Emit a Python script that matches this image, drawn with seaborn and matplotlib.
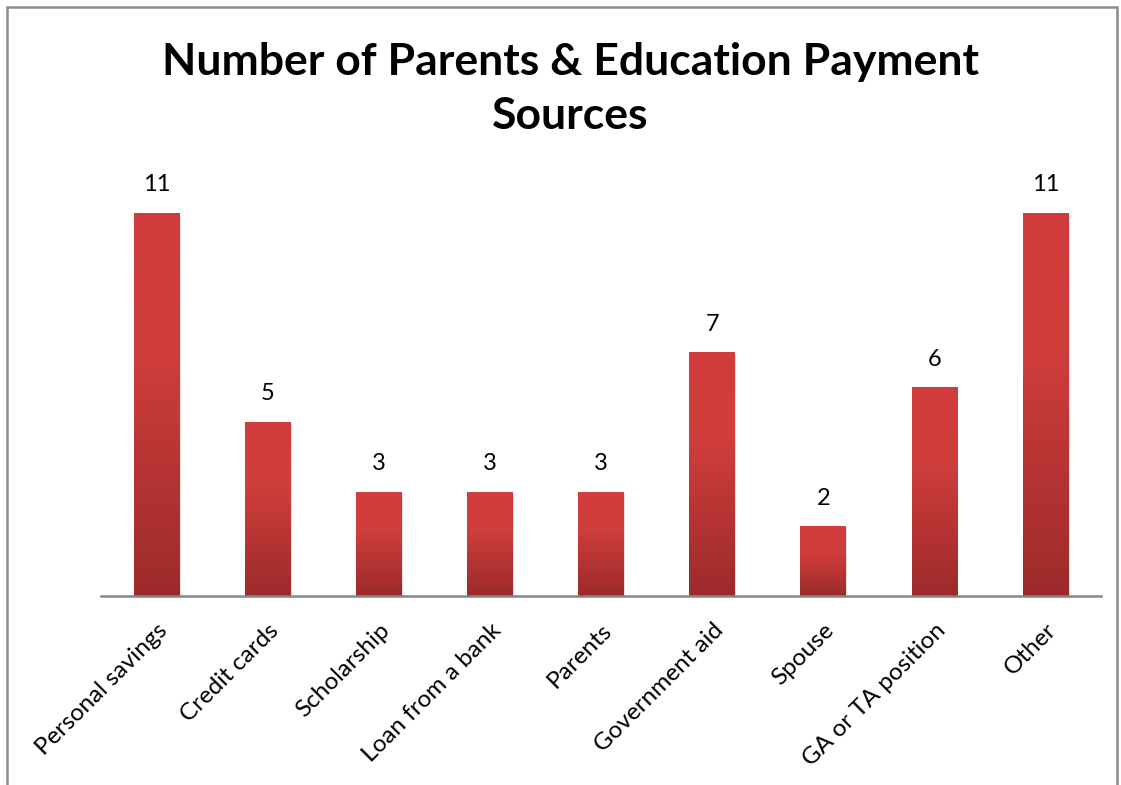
import numpy as np
import pandas as pd
import matplotlib
matplotlib.use("Agg")
import matplotlib.pyplot as plt
import seaborn as sns
from matplotlib.colors import LinearSegmentedColormap
from matplotlib.patches import Rectangle

sources = ["Personal savings", "Credit cards", "Scholarship", "Loan from a bank",
           "Parents", "Government aid", "Spouse", "GA or TA position", "Other"]
counts = [11, 5, 3, 3, 3, 7, 2, 6, 11]

sns.set_theme(style="white")
plt.rcParams["font.family"] = ["Lato", "DejaVu Sans"]
plt.rcParams["text.color"] = "black"
plt.rcParams["xtick.color"] = "black"

df = pd.DataFrame({"source": sources, "count": counts})

fig = plt.figure(figsize=(11.21, 7.85), dpi=100)
ax = fig.add_axes([101 / 1121, 1 - 596 / 785, 1000 / 1121, (596 - 178) / 785])

sns.barplot(data=df, x="source", y="count", ax=ax, width=0.41,
            color="#c83a3a", saturation=1)

# vertical red gradient inside each bar, with a soft drop shadow
grad = LinearSegmentedColormap.from_list(
    "bar", ["#9b2b2b", "#b83434", "#d13f3d", "#cf3c3b"])
g = np.linspace(0, 1, 256).reshape(-1, 1)
for patch, val in zip(ax.patches, counts):
    x0, y0 = patch.get_x(), patch.get_y()
    w, h = patch.get_width(), patch.get_height()
    shadow = Rectangle((x0 + 0.012, y0 - 0.06), w, h, facecolor="#000000",
                       alpha=0.12, edgecolor="none", zorder=1, clip_on=False)
    ax.add_patch(shadow)
    patch.set_facecolor("none")
    patch.set_edgecolor("none")
    im = ax.imshow(g, cmap=grad, aspect="auto", origin="lower",
                   extent=(x0, x0 + w, y0, y0 + h), zorder=2)
    im.set_clip_path(patch)
    ax.text(x0 + w / 2, val + 0.5, f"{val}", ha="center", va="bottom",
            fontsize=17, color="black")

ax.set_xlim(-0.5, len(sources) - 0.5)
ax.set_ylim(0, 12)

for side in ["top", "right", "left"]:
    ax.spines[side].set_visible(False)
ax.spines["bottom"].set_color("#868686")
ax.spines["bottom"].set_linewidth(1.8)
ax.spines["bottom"].set_zorder(3)
ax.set_yticks([])
ax.set_xlabel("")
ax.set_ylabel("")
ax.tick_params(axis="x", length=0, pad=17)
ax.set_xticks(range(len(sources)))
ax.set_xticklabels(sources, rotation=45, ha="right", rotation_mode="anchor",
                   fontsize=17.5, color="black")

fig.text(570 / 1121, 1 - 89 / 785, "Number of Parents & Education Payment\nSources",
         ha="center", va="center", fontsize=32, fontweight="bold",
         linespacing=1.45, color="black")

# chart frame
frame = Rectangle((7 / 1121, -0.05), (1117 - 7) / 1121, 1 - 7 / 785 + 0.05,
                  transform=fig.transFigure, facecolor="none",
                  edgecolor="#8c8c8c", linewidth=1.8)
fig.add_artist(frame)

fig.savefig("out.png", dpi=100)
